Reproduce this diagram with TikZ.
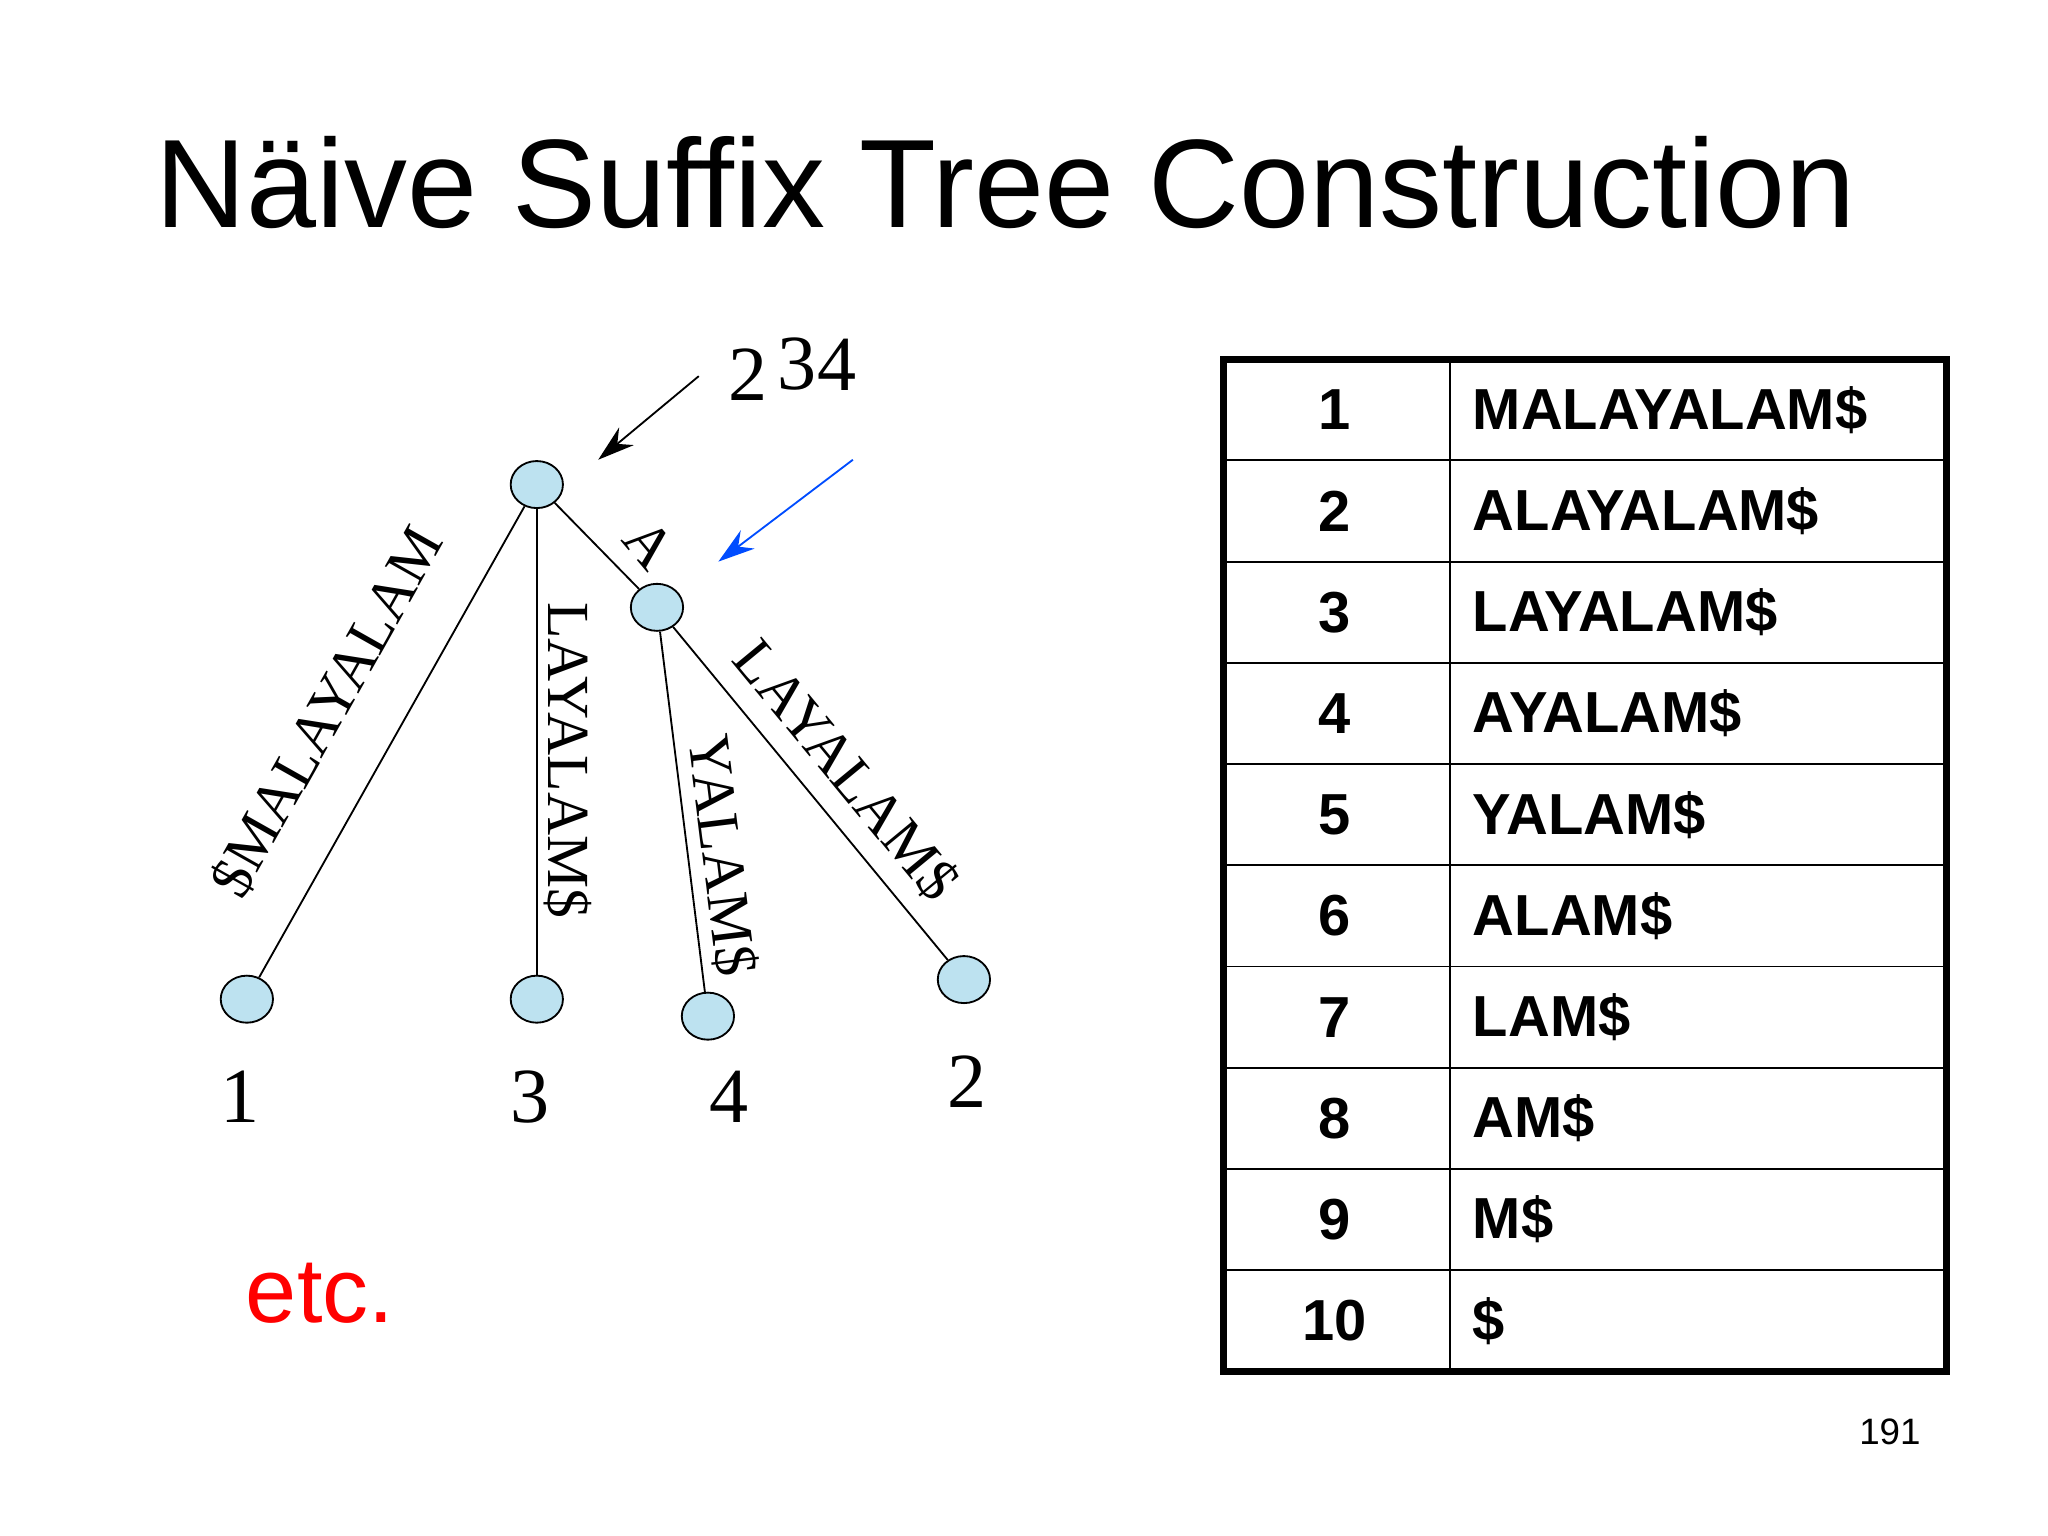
\documentclass[tikz,border=0pt]{standalone}
\usepackage{fontspec}
\setmainfont{Liberation Serif}
\newfontfamily\arialf{Liberation Sans}
\usetikzlibrary{arrows.meta,shapes.geometric}
\begin{document}
\begin{tikzpicture}[x=0.01cm,y=-0.01cm,
  tnode/.style={ellipse,draw,fill=cyan!25!white!90!gray,minimum width=0.4cm,minimum height=0.36cm,inner sep=0pt},
  elab/.style={font=\fontsize{13}{13}\selectfont,inner sep=0pt},
  leafnum/.style={font=\fontsize{17}{17}\selectfont},
  tcell/.style={font=\arialf\bfseries\fontsize{12.6}{12.6}\selectfont,inner sep=0pt}]
\useasboundingbox (0,0) rectangle (1568,1176);
\node[font=\arialf\fontsize{27.4}{27.4}\selectfont] (title) at (770,140) {Näive Suffix Tree Construction};
\node[tnode] (root) at (411,371) {};
\node[tnode] (an) at (503,465) {};
\node[tnode] (l1) at (189,765) {};
\node[tnode] (l3) at (411,765) {};
\node[tnode] (l4) at (542,778) {};
\node[tnode] (l2) at (738,750) {};
\draw (root) -- (l1);
\draw (root) -- (l3);
\draw (root) -- (an);
\draw (an) -- (l4);
\draw (an) -- (l2);
\node[elab,rotate=60.6] (e1) at (250,545) {\$MALAYALAM};
\node[elab,rotate=-90] (e2) at (435,582) {LAYALAM\$};
\node[elab,rotate=-50] (e3) at (497,417) {A};
\node[elab,rotate=-82.9] (e4) at (553,655) {YALAM\$};
\node[elab,rotate=-50.5] (e5) at (648,590) {LAYALAM\$};
\node[leafnum] (n1) at (184,840) {1};
\node[leafnum] (n3) at (406,840) {3};
\node[leafnum] (n4) at (558,840) {4};
\node[leafnum] (n2) at (740,828) {2};
\node[leafnum] (t2) at (573,287) {2};
\node[leafnum] (t3) at (610,279) {3};
\node[leafnum] (t4) at (641,279) {4};
\coordinate (a1s) at (535,288);
\coordinate (a1e) at (458,352);
\draw[-{Stealth[length=8pt,width=5pt]}] (a1s) -- (a1e);
\coordinate (a2s) at (653,352);
\coordinate (a2e) at (550,430);
\draw[blue!70!cyan,-{Stealth[length=8pt,width=5pt]}] (a2s) -- (a2e);
\node[red,font=\arialf\fontsize{20}{20}\selectfont] (etc) at (245,990) {etc.};
% table
\draw[line width=1.5pt] (937,275) rectangle (1490,1050);
\draw (1110,275) -- (1110,1050);
\foreach \i/\s in {1/MALAYALAM\$,2/ALAYALAM\$,3/LAYALAM\$,4/AYALAM\$,5/YALAM\$,6/ALAM\$,7/LAM\$,8/AM\$,9/M\$,10/\$}{
  \pgfmathsetmacro{\yc}{275+77.5*(\i-0.5)}
  \node[tcell] (num\i) at (1022,\yc) {\i};
  \node[tcell,anchor=west] (suf\i) at (1127,\yc) {\s};
  \ifnum\i<10 \draw (937,275+77.5*\i) -- (1490,275+77.5*\i);\fi
}
\node[font=\arialf\fontsize{8}{8}\selectfont] (pg) at (1447,1096) {191};
\end{tikzpicture}
\end{document}
